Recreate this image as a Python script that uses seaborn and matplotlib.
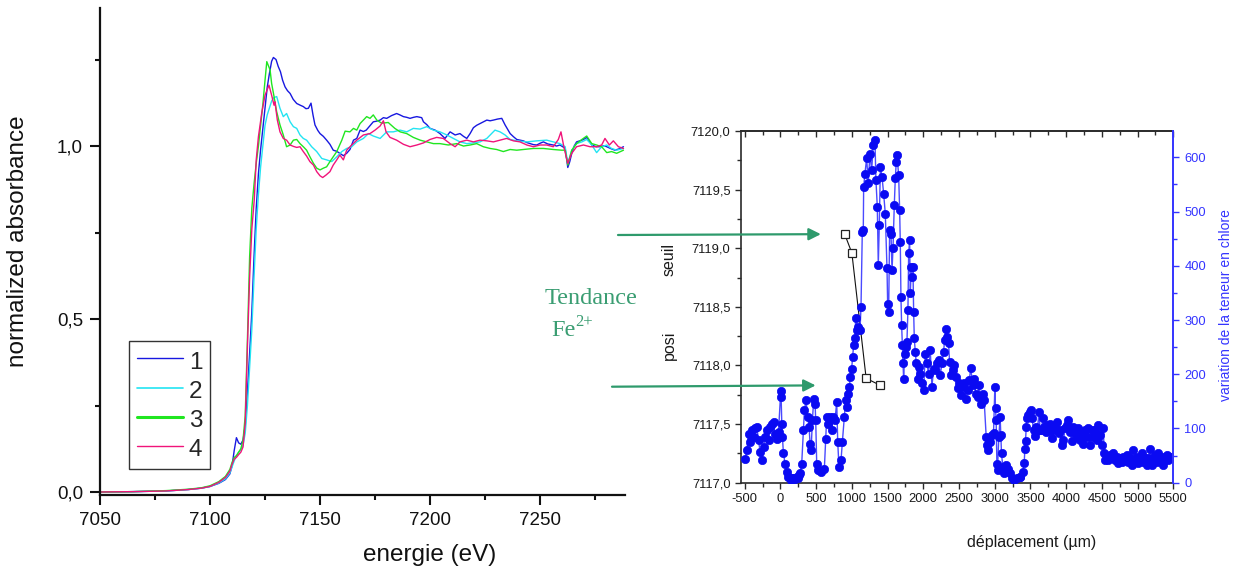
import numpy as np
import pandas as pd
import matplotlib
matplotlib.use("Agg")
import matplotlib.pyplot as plt
import seaborn as sns
from matplotlib.ticker import MultipleLocator, FuncFormatter

# ---------------- data : XANES spectra (left panel) ----------------
SERIES = ["1", "2", "3", "4"]
COLORS = ["#1818e0", "#22e4f2", "#20e620", "#f0147a"]

energy_1 = [7050, 7065, 7080, 7090, 7096, 7100, 7104, 7107, 7109, 7110,
            7111, 7112, 7113, 7114, 7115, 7116, 7117, 7118, 7119, 7120,
            7121, 7122, 7123, 7124, 7125, 7126, 7127, 7128, 7128.8, 7130,
            7131, 7132, 7133, 7134.1, 7135.2, 7136.4, 7137.8, 7139.4, 7141, 7142.4,
            7143.6, 7144.7, 7145.9, 7146.8, 7147.7, 7149, 7150, 7151.5, 7153, 7154.5,
            7156, 7157.5, 7159, 7160.6, 7162.1, 7163.6, 7165.2, 7166.7, 7168.2, 7169.7,
            7171, 7172.6, 7174.2, 7175.8, 7177.3, 7178.8, 7180.3, 7182.5, 7184.8, 7186.3,
            7187.9, 7189.4, 7190.9, 7192.5, 7194, 7196.2, 7197, 7198.5, 7200, 7202.3,
            7204.5, 7206.8, 7209.1, 7211.4, 7213.6, 7215.2, 7216.7, 7218.2, 7219.7, 7221.2,
            7222.7, 7224.2, 7225.8, 7227.3, 7228.8, 7230.7, 7232.6, 7234.1, 7236.4, 7237.9,
            7239.4, 7241, 7242.4, 7244, 7245.5, 7247, 7248.5, 7250, 7251.5, 7253.5,
            7256, 7257.5, 7259, 7260.3, 7261.4, 7262.6, 7263.5, 7264.4, 7265.5, 7266.6,
            7268, 7269, 7270, 7271.2, 7272.3, 7273.5, 7275.5, 7277.3, 7279, 7280.3,
            7282, 7284, 7286, 7287.9]
absorb_1 = [0.000, 0.001, 0.003, 0.007, 0.011, 0.016, 0.025, 0.036, 0.052, 0.075,
            0.120, 0.157, 0.142, 0.138, 0.150, 0.190, 0.290, 0.400, 0.520, 0.680,
            0.820, 0.920, 0.990, 1.050, 1.110, 1.170, 1.210, 1.245, 1.256, 1.250,
            1.230, 1.215, 1.190, 1.171, 1.160, 1.152, 1.135, 1.123, 1.118, 1.114,
            1.108, 1.109, 1.124, 1.090, 1.061, 1.045, 1.036, 1.028, 1.017, 1.005,
            0.988, 0.985, 0.979, 0.972, 0.979, 0.990, 1.017, 1.022, 1.046, 1.042,
            1.046, 1.058, 1.070, 1.072, 1.075, 1.082, 1.080, 1.088, 1.094, 1.090,
            1.085, 1.083, 1.080, 1.083, 1.085, 1.082, 1.070, 1.062, 1.051, 1.046,
            1.036, 1.022, 1.041, 1.032, 1.036, 1.028, 1.022, 1.036, 1.053, 1.060,
            1.065, 1.070, 1.075, 1.073, 1.075, 1.078, 1.080, 1.061, 1.036, 1.027,
            1.019, 1.017, 1.015, 1.010, 1.007, 1.004, 1.003, 1.008, 1.012, 1.006,
            1.003, 1.000, 1.003, 0.998, 0.993, 0.938, 0.955, 0.979, 1.000, 1.012,
            1.015, 1.017, 1.020, 1.025, 1.015, 1.003, 0.998, 0.998, 1.001, 0.998,
            0.993, 0.988, 0.992, 0.998]

energy_2 = [7050, 7065, 7080, 7090, 7096, 7100, 7104, 7107, 7109, 7110,
            7111, 7112, 7113, 7114, 7115, 7116, 7117, 7118, 7119, 7120,
            7121, 7122, 7123, 7124, 7125, 7126, 7127, 7128, 7129, 7130.3,
            7131.8, 7133.3, 7134.8, 7136.4, 7137.9, 7139.4, 7140.9, 7142.4, 7143.9, 7146.2,
            7148.5, 7150.8, 7153, 7155.3, 7157.6, 7159.9, 7162.1, 7164.4, 7166.7, 7169.7,
            7172, 7174.2, 7177.3, 7180.3, 7183.3, 7186.4, 7189.4, 7192.4, 7195.5, 7198.5,
            7201.5, 7204.5, 7207.6, 7210.6, 7213.6, 7216.7, 7219.7, 7222.7, 7225.8, 7229.5,
            7231.8, 7234.1, 7236.4, 7239.4, 7244, 7248.5, 7253, 7256, 7259, 7261.4,
            7262.6, 7264.4, 7266.6, 7269, 7271.2, 7273.5, 7275.7, 7278, 7280.3, 7282.5,
            7284.8, 7287.9]
absorb_2 = [0.000, 0.001, 0.003, 0.007, 0.011, 0.016, 0.026, 0.038, 0.055, 0.072,
            0.090, 0.105, 0.115, 0.122, 0.135, 0.170, 0.250, 0.360, 0.470, 0.620,
            0.760, 0.860, 0.940, 1.000, 1.060, 1.090, 1.110, 1.130, 1.140, 1.143,
            1.109, 1.085, 1.094, 1.070, 1.056, 1.051, 1.032, 1.022, 1.017, 0.998,
            0.984, 0.964, 0.960, 0.955, 0.969, 0.984, 0.993, 0.998, 1.012, 1.022,
            1.036, 1.029, 1.022, 1.041, 1.041, 1.046, 1.041, 1.051, 1.049, 1.056,
            1.046, 1.041, 1.032, 1.022, 1.012, 1.007, 1.009, 1.012, 1.022, 1.046,
            1.041, 1.032, 1.019, 1.015, 1.012, 1.015, 1.017, 1.012, 1.007, 0.998,
            0.950, 0.988, 1.007, 1.012, 1.019, 1.003, 0.981, 0.998, 1.003, 0.993,
            0.988, 0.993]

energy_3 = [7050, 7065, 7080, 7090, 7096, 7100, 7104, 7107, 7109, 7110,
            7111, 7112, 7113, 7114, 7115, 7116, 7117, 7118, 7119, 7120,
            7121, 7122, 7123, 7124, 7125, 7125.8, 7127.3, 7128, 7129.1, 7130.3,
            7131.8, 7133.3, 7134.8, 7136.4, 7137.9, 7139.4, 7140.9, 7142.4, 7143.9, 7145.4,
            7147, 7148.5, 7150, 7151.5, 7153, 7154.5, 7156, 7157.6, 7159.9, 7161.4,
            7163.6, 7165.2, 7166.7, 7168.2, 7169.7, 7171.2, 7172.7, 7174.2, 7175.8, 7178,
            7181, 7184, 7186.4, 7189.4, 7192.4, 7195.5, 7198.5, 7201.5, 7204.5, 7208.3,
            7212.1, 7215.2, 7218.2, 7221.2, 7224.2, 7227.3, 7230.3, 7233.3, 7236.4, 7239.4,
            7242.4, 7247, 7251.5, 7256, 7259.8, 7261.4, 7262.6, 7264.4, 7266.6, 7269,
            7271.2, 7273.5, 7275.7, 7278, 7280.3, 7282.5, 7284.8, 7287.9]
absorb_3 = [0.000, 0.001, 0.004, 0.008, 0.012, 0.018, 0.030, 0.045, 0.065, 0.085,
            0.100, 0.105, 0.115, 0.125, 0.150, 0.220, 0.440, 0.680, 0.820, 0.890,
            0.950, 1.000, 1.060, 1.120, 1.190, 1.244, 1.220, 1.181, 1.143, 1.099,
            1.061, 1.032, 0.998, 1.003, 1.017, 1.019, 1.007, 0.998, 0.988, 0.969,
            0.950, 0.936, 0.931, 0.936, 0.940, 0.955, 0.969, 0.984, 1.017, 1.043,
            1.041, 1.051, 1.046, 1.065, 1.075, 1.085, 1.080, 1.090, 1.075, 1.066,
            1.068, 1.051, 1.041, 1.036, 1.025, 1.017, 1.012, 1.007, 1.007, 1.003,
            1.007, 1.000, 1.003, 1.007, 0.998, 0.993, 0.990, 0.984, 0.990, 0.988,
            0.990, 0.993, 0.993, 0.990, 0.988, 0.988, 0.945, 0.988, 1.007, 1.019,
            1.029, 1.007, 1.003, 0.998, 0.981, 0.984, 0.979, 0.988]

energy_4 = [7050, 7065, 7080, 7090, 7096, 7100, 7104, 7107, 7109, 7110,
            7111, 7112, 7113, 7114, 7115, 7116, 7117, 7118, 7119, 7120.1,
            7121, 7122, 7123.5, 7125, 7126.8, 7128, 7129.1, 7129.5, 7130.6, 7131.8,
            7133.3, 7134.8, 7136.4, 7137.9, 7139.4, 7140.9, 7142.4, 7143.9, 7145.4, 7147,
            7148.5, 7150, 7151.2, 7152.7, 7154.5, 7156, 7157.6, 7159, 7160.6, 7162.1,
            7164.4, 7166.7, 7169.7, 7172.7, 7175, 7177.3, 7178.8, 7180, 7181.8, 7184.8,
            7187.9, 7190.9, 7194, 7197, 7200, 7203, 7206, 7209.1, 7211.4, 7213.6,
            7216.7, 7219.7, 7222.7, 7225.8, 7228.8, 7231.8, 7234.8, 7237.9, 7240.9, 7244,
            7247, 7250, 7253, 7256, 7258.3, 7259.5, 7260.8, 7262.6, 7264.4, 7266.6,
            7269.7, 7272.7, 7275.7, 7278, 7279.5, 7281.5, 7283.3, 7285.6, 7287.9]
absorb_4 = [0.000, 0.001, 0.003, 0.007, 0.011, 0.016, 0.028, 0.042, 0.060, 0.080,
            0.095, 0.100, 0.108, 0.115, 0.130, 0.200, 0.420, 0.620, 0.760, 0.844,
            0.960, 1.027, 1.095, 1.147, 1.176, 1.147, 1.118, 1.128, 1.075, 1.041,
            1.022, 1.017, 1.003, 0.999, 0.996, 0.998, 0.984, 0.971, 0.955, 0.945,
            0.926, 0.914, 0.909, 0.916, 0.926, 0.945, 0.960, 0.974, 0.960, 0.988,
            1.003, 1.017, 1.032, 1.036, 1.046, 1.058, 1.073, 1.041, 1.025, 1.017,
            1.005, 0.998, 1.003, 1.009, 1.019, 1.025, 1.022, 1.007, 0.998, 1.012,
            1.017, 1.012, 1.017, 1.015, 1.012, 1.017, 1.022, 1.015, 1.012, 1.003,
            0.998, 1.003, 1.003, 0.998, 1.019, 1.041, 0.998, 0.950, 0.979, 0.998,
            1.003, 0.998, 0.998, 1.003, 1.022, 1.003, 1.015, 0.998, 0.993]

# ---------------- data : profile (right panel) ----------------
seuil_pos = [900, 1000, 1200, 1400]                        # µm
seuil_energy = [7119.12, 7118.96, 7117.89, 7117.83]        # eV

chlore_pos = [
    -494, -470, -447, -424, -400, -377, -354, -330, -307, -284,
    -261, -237, -214, -191, -167, -144, -121, -97, -74, -51,
    -27, 5, 10, 19, 28, 42, 65, 89, 112, 135,
    150, 165, 182, 200, 229, 245, 260, 275, 298, 322,
    336, 359, 382, 401, 415, 429, 448, 466, 485, 494,
    508, 531, 569, 615, 634, 648, 671, 694, 718, 741,
    764, 788, 802, 820, 848, 867, 895, 913, 927, 951,
    965, 979, 997, 1011, 1025, 1044, 1053, 1072, 1090, 1114,
    1128, 1146, 1160, 1165, 1183, 1207, 1230, 1253, 1277, 1300,
    1323, 1337, 1356, 1370, 1384,
    1399, 1422, 1445, 1468, 1492, 1501, 1515, 1529, 1548, 1562,
    1576, 1594, 1608, 1622, 1632, 1655, 1669, 1678, 1687, 1697,
    1706, 1716, 1725, 1739, 1753, 1771, 1785, 1795, 1809, 1818,
    1832, 1846, 1855, 1865, 1874, 1888, 1902, 1921, 1935, 1958,
    1981, 2004, 2028, 2051, 2074, 2098, 2121, 2144, 2168, 2191,
    2214, 2237, 2261, 2284, 2298, 2312, 2331, 2354, 2368, 2387,
    2410, 2433, 2457, 2480, 2503, 2526, 2550, 2573, 2596, 2620,
    2643, 2666, 2689, 2713, 2736, 2759, 2783, 2806, 2829, 2852,
    2881, 2890, 2904, 2918, 2936, 2960, 2983, 3002, 3011, 3020,
    3030, 3039, 3057, 3076, 3085, 3095, 3113, 3132, 3160, 3179,
    3207, 3239, 3272, 3309, 3347,
    3357, 3394, 3413, 3422, 3431, 3441, 3450, 3468, 3487, 3506,
    3524, 3543, 3562, 3580, 3599, 3618, 3636, 3655, 3674, 3692,
    3711, 3730, 3748, 3767, 3785, 3804, 3823, 3846, 3869, 3893,
    3916, 3939, 3962, 3986, 4009, 4032, 4056, 4079, 4102, 4125,
    4149, 4172, 4195, 4219, 4242, 4265, 4289, 4312, 4335, 4358,
    4382, 4405, 4428, 4452, 4475, 4498, 4522, 4531, 4545, 4568,
    4592, 4615, 4638, 4662, 4685, 4708, 4731, 4755, 4778, 4801,
    4825, 4848, 4871, 4894, 4918, 4941, 4964, 4988, 5011, 5034,
    5058, 5081, 5104, 5127, 5151, 5174, 5197, 5221, 5244, 5268,
    5291, 5314, 5337, 5361, 5384, 5407, 5431, 5454, 5477, 5500]
chlore_var = [
    44, 60, 90, 75, 97, 84, 100, 103, 78, 57,
    41, 66, 84, 97, 78, 103, 109, 112, 90, 81,
    94, 170, 158, 109, 84, 54, 35, 20, 11, 8,
    5, 9, 8, 6, 11, 9, 14, 17, 35, 97,
    134, 152, 121, 103, 72, 60, 115, 155, 146, 115,
    35, 23, 20, 26, 81, 121, 109, 121, 97, 121,
    115, 149, 75, 29, 41, 75, 121, 152, 140, 164,
    177, 195, 210, 232, 254, 266, 303, 281, 287, 281,
    324, 462, 466, 545, 570, 598, 552, 607, 576, 622,
    632, 558, 509, 401, 475,
    582, 564, 533, 496, 395, 330, 315, 466, 459, 392,
    432, 512, 561, 592, 604, 567, 502, 444, 343, 290,
    254, 220, 192, 238, 250, 260, 318, 423, 447, 349,
    398, 380, 398, 315, 266, 241, 220, 192, 214, 201,
    183, 171, 238, 220, 201, 244, 177, 210, 207, 220,
    226, 198, 220, 241, 263, 284, 269, 257, 223, 198,
    207, 217, 195, 174, 183, 161, 177, 183, 155, 171,
    189, 212, 180, 192, 164, 158, 180, 146, 164, 152,
    84, 69, 60, 78, 75, 88, 91, 177, 137, 115,
    35, 23, 84, 121, 88, 54, 29, 17, 32, 26,
    17, 8, 5, 8, 11,
    11, 20, 36, 63, 76, 103, 119, 125, 131, 134,
    119, 97, 86, 103, 97, 131, 97, 97, 119, 103,
    94, 106, 97, 109, 97, 82, 97, 103, 112, 91,
    97, 69, 79, 100, 106, 116, 94, 76, 103, 91,
    85, 100, 79, 91, 72, 97, 85, 100, 69, 97,
    85, 97, 79, 106, 88, 69, 100, 54, 42, 48,
    42, 51, 45, 54, 42, 48, 36, 45, 39, 48,
    42, 51, 39, 45, 33, 60, 39, 48, 36, 45,
    54, 39, 45, 33, 45, 63, 33, 45, 51, 39,
    54, 42, 48, 33, 45, 51, 42, 48, 45, 48]

# ---------------- style ----------------
sns.set_theme(style="ticks")
plt.rcParams["font.family"] = ["Liberation Sans", "DejaVu Sans"]
plt.rcParams["axes.unicode_minus"] = False

W, H = 1244, 573
fig = plt.figure(figsize=(W / 100, H / 100), dpi=100)


def fx(px):
    return px / W


def fy(py):
    return 1 - py / H


comma = FuncFormatter(lambda v, p: f"{v:.1f}".replace(".", ","))

# ================= left panel =================
ax1 = fig.add_axes([fx(100), fy(495), (625 - 100) / W, (495 - 8) / H])
frames = []
for lab, e, a in zip(SERIES, [energy_1, energy_2, energy_3, energy_4],
                     [absorb_1, absorb_2, absorb_3, absorb_4]):
    frames.append(pd.DataFrame({"energie": e, "absorbance": a, "serie": lab}))
spec = pd.concat(frames, ignore_index=True)
sns.lineplot(data=spec, x="energie", y="absorbance", hue="serie",
             hue_order=SERIES, palette=dict(zip(SERIES, COLORS)),
             estimator=None, linewidth=1.0, ax=ax1)
ax1.set_xlim(7050, 7288.6)
ax1.set_ylim(-0.0087, 1.399)
ax1.set_xlabel("")
ax1.set_ylabel("")
sns.despine(ax=ax1)
for s in ("left", "bottom"):
    ax1.spines[s].set_linewidth(1.6)
    ax1.spines[s].set_color("#111111")
ax1.xaxis.set_major_locator(MultipleLocator(50))
ax1.xaxis.set_minor_locator(MultipleLocator(25))
ax1.yaxis.set_major_locator(MultipleLocator(0.5))
ax1.yaxis.set_minor_locator(MultipleLocator(0.25))
ax1.yaxis.set_major_formatter(comma)
ax1.tick_params(which="major", direction="out", length=7.2, width=1.5,
                labelsize=13.5, pad=5, color="#111111", labelcolor="#111111")
ax1.tick_params(which="minor", direction="out", length=3.6, width=1.5,
                color="#111111")

handles, labels = ax1.get_legend_handles_labels()
leg = ax1.legend(handles, labels, loc="upper left",
                 bbox_to_anchor=(0.0558, 0.317), frameon=True, fancybox=False,
                 fontsize=17.5, handlelength=1.9, handleheight=1.2,
                 handletextpad=0.25, labelspacing=0.15, borderpad=0.3,
                 borderaxespad=0)
leg.get_frame().set_edgecolor("black")
leg.get_frame().set_linewidth(1.0)
for ln, w in zip(leg.get_lines(), [1.0, 1.2, 2.2, 1.0]):
    ln.set_linewidth(w)

fig.text(fx(18), fy(241.5), "normalized absorbance", rotation=90,
         ha="center", va="center", fontsize=17.5, color="#111111")
fig.text(fx(430), fy(555), "energie (eV)", ha="center", va="center",
         fontsize=17.5, color="#111111")

# ================= right panel =================
BLUE_DOT = "#0a0af2"
BLUE_LINE = "#4a4aff"
AX_BLUE = "#3434ff"
DARK = "#2a2a2a"

ax2 = fig.add_axes([fx(741), fy(482.7), (1173.3 - 741) / W, (482.7 - 131) / H])
ax3 = ax2.twinx()

sns.lineplot(x=seuil_pos, y=seuil_energy, ax=ax2, color="#111111",
             linewidth=0.8, marker="s", markersize=5.2,
             markerfacecolor="white", markeredgecolor="#222222",
             markeredgewidth=0.9, estimator=None, sort=False)
sns.lineplot(x=chlore_pos, y=chlore_var, ax=ax3, color=BLUE_LINE,
             linewidth=1.0, marker="o", markersize=6.0,
             estimator=None, sort=False)
for ln in ax3.lines:
    ln.set_color(BLUE_LINE)
    ln.set_markerfacecolor(BLUE_DOT)
    ln.set_markeredgecolor(BLUE_DOT)
    ln.set_markeredgewidth(0.5)

ax2.set_xlim(-552, 5500)
ax2.set_ylim(7117, 7120)
ax3.set_ylim(0, 648.5)
for a in (ax2, ax3):
    a.set_xlabel("")
    a.set_ylabel("")

ax2.xaxis.set_major_locator(MultipleLocator(500))
ax2.xaxis.set_minor_locator(MultipleLocator(250))
ax2.yaxis.set_major_locator(MultipleLocator(0.5))
ax2.yaxis.set_minor_locator(MultipleLocator(0.25))
ax2.yaxis.set_major_formatter(comma)
ax2.tick_params(which="major", direction="out", length=4.5, width=1.0,
                labelsize=9.3, pad=3, color=DARK, labelcolor="#1a1a1a")
ax2.tick_params(which="minor", direction="out", length=2.6, width=1.0,
                color=DARK)
ax3.yaxis.set_major_locator(MultipleLocator(100))
ax3.yaxis.set_minor_locator(MultipleLocator(50))
ax3.tick_params(which="major", direction="out", length=4.0, width=1.0,
                labelsize=9.3, pad=4, color=AX_BLUE, labelcolor=AX_BLUE)
ax3.tick_params(which="minor", direction="out", length=2.6, width=1.0,
                color=AX_BLUE)

for s in ("left", "bottom", "top"):
    ax2.spines[s].set_color(DARK)
    ax2.spines[s].set_linewidth(1.2)
ax2.spines["right"].set_visible(False)
for s in ("left", "bottom", "top"):
    ax3.spines[s].set_visible(False)
ax3.spines["right"].set_color(AX_BLUE)
ax3.spines["right"].set_linewidth(1.4)

sec = ax2.secondary_xaxis("top")
sec.xaxis.set_major_locator(MultipleLocator(500))
sec.xaxis.set_minor_locator(MultipleLocator(250))
sec.tick_params(which="major", direction="in", length=4.0, width=1.0,
                labeltop=False, color=DARK)
sec.tick_params(which="minor", direction="in", length=2.6, width=1.0,
                color=DARK)
sec.spines["top"].set_color(DARK)
sec.spines["top"].set_linewidth(1.2)

fig.text(fx(669), fy(345), "posi", rotation=90, ha="center", va="center",
         fontsize=11.5, color="#1a1a1a")
fig.text(fx(669), fy(260), "seuil", rotation=90, ha="center", va="center",
         fontsize=11.5, color="#1a1a1a")
fig.text(fx(1226), fy(305), "variation de la teneur en chlore", rotation=90,
         ha="center", va="center", fontsize=10, color=AX_BLUE)
fig.text(fx(1032), fy(543), "déplacement (µm)", ha="center", va="center",
         fontsize=11.5, color="#1a1a1a")

# ---- green arrows and annotation ----
GREEN = "#2e9a6c"
arrow_kw = dict(arrowstyle="-|>", color=GREEN, lw=1.6, mutation_scale=18,
                shrinkA=0, shrinkB=0)
ax2.annotate("", xy=(566, seuil_energy[0]), xytext=(618, H - 235),
             xycoords="data", textcoords=("figure pixels", "figure pixels"),
             arrowprops=arrow_kw, annotation_clip=False)
ax2.annotate("", xy=(493, seuil_energy[-1]), xytext=(612, H - 386.7),
             xycoords="data", textcoords=("figure pixels", "figure pixels"),
             arrowprops=arrow_kw, annotation_clip=False)

fig.text(fx(545), fy(299), "Tendance", ha="left", va="center",
         fontsize=17.5, color="#3a9d72", family=["Liberation Serif", "DejaVu Serif"])
fig.text(fx(551), fy(330), "Fe", ha="left", va="center",
         fontsize=17.5, color="#3a9d72", family=["Liberation Serif", "DejaVu Serif"])
fig.text(fx(575.5), fy(322), "2+", ha="left", va="center",
         fontsize=12, color="#3a9d72", family=["Liberation Serif", "DejaVu Serif"])

fig.savefig("out.png", dpi=100)
